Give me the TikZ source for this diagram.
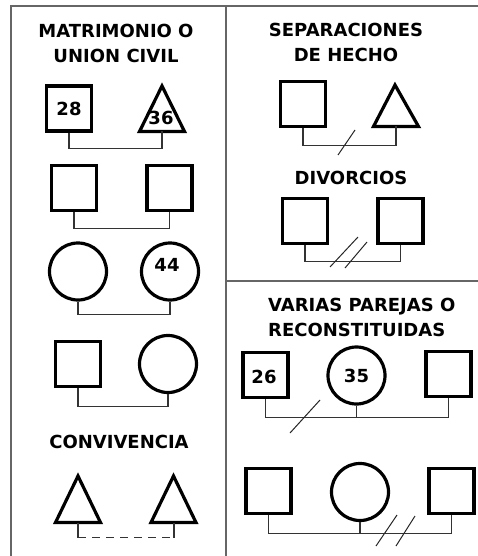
\documentclass[tikz,border=0pt]{standalone}
\usepackage{fontspec}
\newfontfamily\rotulo{DejaVu Sans}
\usepackage{tikz}

\tikzset{
    varon/.style={draw, line width=3.2pt, minimum size=45pt, inner sep=0pt, font=\rotulo\bfseries\fontsize{18}{20}\selectfont},
    mujer/.style={draw, circle, line width=3.2pt, minimum size=57pt, inner sep=0pt, font=\rotulo\bfseries\fontsize{18}{20}\selectfont},
    figura/.style={line width=3.2pt, line join=miter},
    lazo/.style={line width=1.3pt, black!80},
    corte/.style={line width=1pt, black!85},
    marco/.style={line width=1.8pt, black!60},
    titulo/.style={inner sep=0pt, font=\rotulo\bfseries\fontsize{18}{25}\selectfont},
    edad/.style={inner sep=0pt, font=\rotulo\bfseries\fontsize{18}{20}\selectfont}
}

\begin{document}
\begin{tikzpicture}[x=1pt,y=-1pt]

    \useasboundingbox (0,0) rectangle (478,556);

    % frame
    \draw[marco] (11,556) -- (11,6) -- (478,6);
    \draw[marco] (226,6) -- (226,556);
    \draw[marco] (226,281) -- (478,281);

    % matrimonio o union civil
    \node[titulo, align=center] (tmat) at (116,43.5) {MATRIMONIO O\\UNION CIVIL};

    \node[varon] (mat1a) at (69,108.5) {28};
    \draw[figura] (162,86) -- (184.5,131.5) -- (139.5,131.5) -- cycle;
    \coordinate (mat1b) at (162,131.5);
    \node[edad] (e36) at (161,118) {36};
    \draw[lazo] (mat1a.south) -- ++(0,16) -| (mat1b);

    \node[varon] (mat2a) at (74,188) {};
    \node[varon] (mat2b) at (169.5,188) {};
    \draw[lazo] (mat2a.south) -- ++(0,16.5) -| (mat2b.south);

    \node[mujer] (mat3a) at (78,271.5) {};
    \node[mujer] (mat3b) at (170,271.5) {};
    \node[edad] (e44) at (167,265) {44};
    \draw[lazo] (mat3a.south) -- ++(0,13) -| (mat3b.south);

    \node[varon] (mat4a) at (78,364) {};
    \node[mujer] (mat4b) at (168,364) {};
    \draw[lazo] (mat4a.south) -- ++(0,18.5) -| (mat4b.south);

    % convivencia
    \node[titulo] (tconv) at (119,441.5) {CONVIVENCIA};

    \draw[figura] (78,476) -- (100.5,522.5) -- (55.5,522.5) -- cycle;
    \draw[figura] (173.5,476) -- (196,522.5) -- (151,522.5) -- cycle;
    \coordinate (conva) at (78,522.5);
    \coordinate (convb) at (174,522.5);
    \draw[lazo] (conva) -- ++(0,15) coordinate (conva2);
    \draw[lazo] (convb) -- ++(0,15) coordinate (convb2);
    \draw[lazo, dash pattern=on 8pt off 6pt] (conva2) -- (convb2);

    % separaciones de hecho
    \node[titulo, align=center] (tsep) at (346,42) {SEPARACIONES\\DE HECHO};

    \node[varon] (sepa) at (303,104) {};
    \draw[figura] (395,85) -- (418.5,126.5) -- (373.5,126.5) -- cycle;
    \coordinate (sepb) at (396,126.5);
    \draw[lazo] (sepa.south) -- ++(0,17.5) -| (sepb);
    \draw[corte] (338,155) -- (355,130);

    % divorcios
    \node[titulo] (tdiv) at (351,177.5) {DIVORCIOS};

    \node[varon] (diva) at (305,221) {};
    \node[varon] (divb) at (400.5,221) {};
    \draw[lazo] (diva.south) -- ++(0,16.5) -| (divb.south);
    \draw[corte] (330,267) -- (358,237);
    \draw[corte] (345,268) -- (367,242);

    % varias parejas o reconstituidas
    \node[titulo, align=left, anchor=north west] (trec) at (268,297.5) {VARIAS PAREJAS O\\RECONSTITUIDAS};

    \node[varon] (rec1a) at (265.5,375) {};
    \node[edad] (e26) at (264,377) {26};
    \node[mujer] (rec1b) at (356.5,375.5) {35};
    \node[varon] (rec1c) at (448.5,374) {};
    \draw[lazo] (rec1a.south) -- ++(0,18.5) -| (rec1c.south);
    \draw[lazo] (rec1b.south) -- ++(0,12);
    \draw[corte] (290,433) -- (320,400);

    \node[varon] (rec2a) at (268.5,491) {};
    \node[mujer] (rec2b) at (360,492) {};
    \node[varon] (rec2c) at (451.5,491) {};
    \draw[lazo] (rec2a.south) -- ++(0,18.5) -| (rec2c.south);
    \draw[lazo] (rec2b.south) -- ++(0,11.5);
    \draw[corte] (376,546) -- (397,515);
    \draw[corte] (396,546) -- (415,516);

\end{tikzpicture}
\end{document}
